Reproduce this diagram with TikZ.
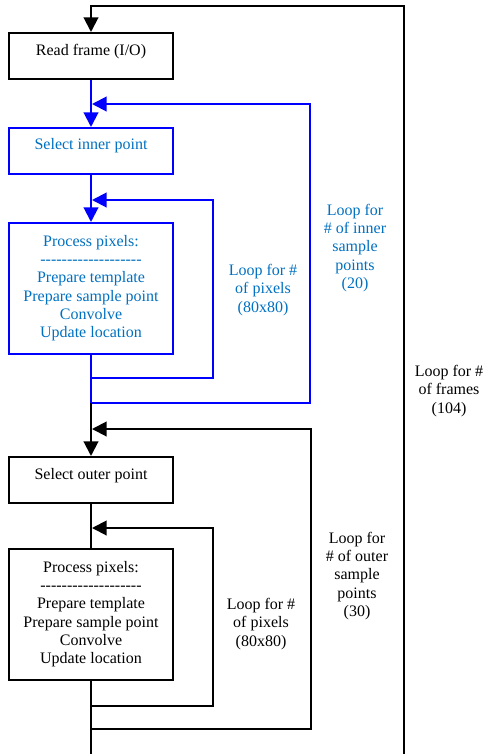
\documentclass[tikz,border=0pt]{standalone}
\usepackage{fontspec}
\setmainfont{Liberation Serif}
\usetikzlibrary{arrows.meta}
\definecolor{lbl}{RGB}{0,112,192}
\definecolor{ln}{RGB}{0,0,255}
\newcommand\hy{-\kern0pt}
\newcommand\dashrow{\hy\hy\hy\hy\hy\hy\hy\hy\hy\hy\hy\hy\hy\hy\hy\hy\hy\hy\hy}
\begin{document}
\begin{tikzpicture}[x=0.75pt,y=-0.75pt,
  every node/.style={font=\fontsize{12pt}{13.8pt}\selectfont},
  box/.style={draw,line width=1.5pt,minimum width=123pt,inner sep=0pt,anchor=north,align=center},
  onebox/.style={box,text height=16.8pt,text depth=17.7pt},
  bigbox/.style={box,minimum height=98.25pt},
  bl/.style={draw=ln,text=lbl},
  kb/.style={draw=black,text=black},
  wire/.style={line width=1.5pt,line join=miter},
  tip/.style={-{Triangle[length=11pt,width=11pt]}},
  lab/.style={align=center,inner sep=0pt}
]
\useasboundingbox (0,0) rectangle (484,754);

% boxes
\node[onebox,kb] (read) at (91,32) {Read frame (I/O)};
\node[onebox,bl,text height=16.1pt,text depth=18.4pt] (selin) at (91,127) {Select inner point};
\node[bigbox,bl] (pin) at (91,222) {Process pixels:\\[-0.6pt]\dashrow\\Prepare template\\Prepare sample point\\Convolve\\Update location};
\node[onebox,kb,text height=16.5pt,text depth=18pt] (selout) at (91,456) {Select outer point};
\node[bigbox,kb] (pout) at (91,548) {Process pixels:\\[-0.6pt]\dashrow\\Prepare template\\Prepare sample point\\Convolve\\Update location};

% labels
\node[lab,text=lbl] (l1) at (263,290) {Loop for \#\\of pixels\\(80x80)};
\node[lab,text=lbl] (l2) at (355,248) {Loop for\\\# of inner\\sample\\points\\(20)};
\node[lab] (l3) at (449,391) {Loop for \#\\of frames\\(104)};
\node[lab] (l4) at (357,576) {Loop for\\\# of outer\\sample\\points\\(30)};
\node[lab] (l5) at (261,624) {Loop for \#\\of pixels\\(80x80)};

% coordinates
\coordinate (ft) at (404,6);
\coordinate (fb) at (404,754);
\coordinate (ia) at (91,378);
\coordinate (ib) at (213,378);
\coordinate (ic) at (213,200);
\coordinate (id) at (92,200);
\coordinate (sa) at (91,403);
\coordinate (sb) at (310,403);
\coordinate (sc) at (310,104);
\coordinate (sd) at (92,104);
\coordinate (oa) at (91,706);
\coordinate (ob) at (213,706);
\coordinate (oc) at (213,528);
\coordinate (od) at (92,528);
\coordinate (pa) at (91,729);
\coordinate (pb) at (311,729);
\coordinate (pc) at (311,429);
\coordinate (pd) at (92,429);
\coordinate (mb) at (91,754);

% frames loop
\draw[wire,tip] (fb) -- (ft) -| (read.north);
% inner (blue)
\draw[wire,tip,ln] (read.south) -- (selin.north);
\draw[wire,tip,ln] (selin.south) -- (pin.north);
\draw[wire,tip,ln] (pin.south) -- (ia) -- (ib) -- (ic) -- (id);
\draw[wire,tip,ln] (ia) -- (sa) -- (sb) -- (sc) -- (sd);
% outer (black)
\draw[wire,tip] (sa) -- (selout.north);
\draw[wire] (selout.south) -- (pout.north);
\draw[wire,tip] (pout.south) -- (oa) -- (ob) -- (oc) -- (od);
\draw[wire,tip] (oa) -- (pa) -- (pb) -- (pc) -- (pd);
\draw[wire] (pa) -- (mb);
\end{tikzpicture}
\end{document}
